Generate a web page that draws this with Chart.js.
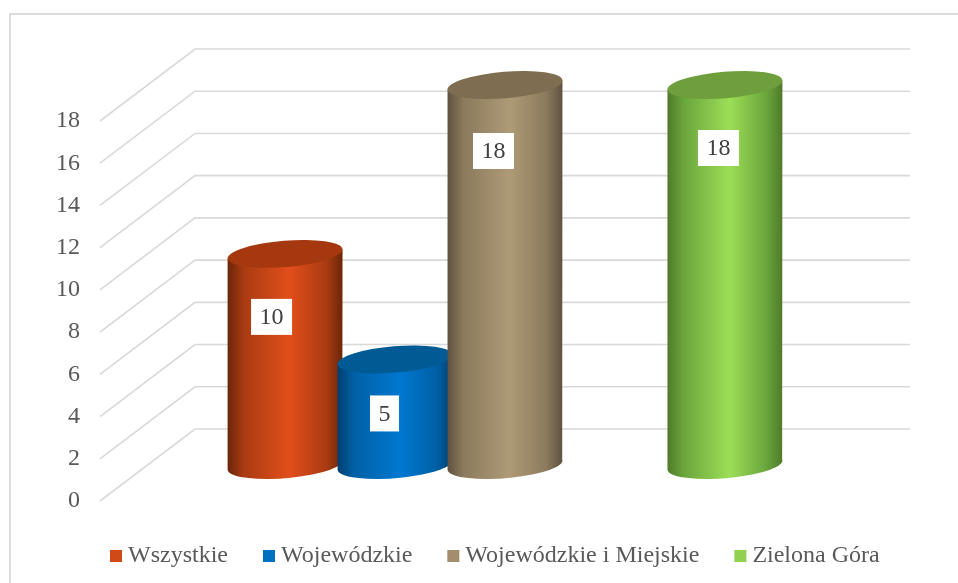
<!DOCTYPE html>
<html>
<head>
<meta charset="utf-8">
<style>
  html, body { margin: 0; padding: 0; background: #fff; overflow: hidden; }
  canvas { display: block; }
</style>
<script src="https://cdn.jsdelivr.net/npm/chart.js@4"></script>
</head>
<body>
<canvas id="chart" width="958" height="583"></canvas>
<script>
// data (4th slot is an empty series, it has no legend entry)
const seriesNames = ["Wszystkie", "Wojewódzkie", "Wojewódzkie i Miejskie", "", "Zielona Góra"];
const seriesValues = [10, 5, 18, null, 18];
const yMin = 0;
const yMax = 18;
const yStep = 2;

// styles
const swatchColors = ["#D04A17", "#0070C0", "#A38D6D", "", "#92D050"];
const topColors = ["#A5380F", "#005A94", "#7E6D50", "", "#6F9E3D"];
const edgeColors = ["#6B2608", "#003F70", "#5F5240", "", "#4F7A2A"];
const midColors = ["#A93B12", "#0060A6", "#8B7A5C", "", "#6AA53C"];
const peakColors = ["#E24E1B", "#0078D0", "#AE9A76", "", "#9CDE57"];
// label box centre relative to the bar's top centre
const labelShiftX = [-13.5, -10.5, -11.5, 0, -6.5];
const labelShiftY = [63, 54, 66, 0, 63];

const fontName = "'Liberation Serif'";
const gridColor = "#D9D9D9";
const depthX = 95;
const depthY = -72;

const cylinderPlugin = {
  id: "cylinders",
  afterLayout(chart) {
    // legend row starts further right than the axis column
    chart.legend.left += 75;
    chart.legend.right += 75;
  },
  beforeDraw(chart) {
    const ctx = chart.ctx;
    ctx.save();
    ctx.fillStyle = "#fff";
    ctx.fillRect(0, 0, chart.width, chart.height);
    // outer frame, only top and left show up
    ctx.strokeStyle = "#DCDCDC";
    ctx.lineWidth = 2;
    ctx.beginPath();
    ctx.moveTo(10, 583);
    ctx.lineTo(10, 14);
    ctx.lineTo(958, 14);
    ctx.stroke();
    ctx.restore();
  },
  beforeDatasetsDraw(chart) {
    const ctx = chart.ctx;
    const area = chart.chartArea;
    const yScale = chart.scales.y;

    /* ---- walls ---- */
    ctx.save();
    ctx.strokeStyle = gridColor;
    ctx.lineWidth = 1.6;
    yScale.ticks.forEach(t => {
      const y = yScale.getPixelForValue(t.value);
      ctx.beginPath();
      ctx.moveTo(area.left, y);
      ctx.lineTo(area.left + depthX, y + depthY);
      ctx.lineTo(area.right + depthX, y + depthY);
      ctx.stroke();
    });
    ctx.restore();

    /* ---- cylinders, later ones sit over earlier ones ---- */
    chart.data.datasets.forEach((ds, i) => {
      if (seriesValues[i] === null) return;
      const bar = chart.getDatasetMeta(i).data[0];
      const cx = bar.x + depthX / 2;
      const topY = bar.y + depthY / 2;
      const baseY = yScale.getPixelForValue(yMin) + depthY / 2;
      const rx = bar.width / 2 + 0.2;
      const ry = 13.2;
      const tilt = -4.7 * Math.PI / 180;
      const halfW = bar.width / 2;
      const skew = 4.5;

      const grad = ctx.createLinearGradient(cx - halfW, 0, cx + halfW, 0);
      grad.addColorStop(0, edgeColors[i]);
      grad.addColorStop(0.14, midColors[i]);
      grad.addColorStop(0.54, peakColors[i]);
      grad.addColorStop(0.86, midColors[i]);
      grad.addColorStop(1, edgeColors[i]);

      ctx.save();
      ctx.fillStyle = grad;
      ctx.beginPath();
      ctx.moveTo(cx - halfW, topY + skew);
      ctx.lineTo(cx - halfW, baseY + skew);
      ctx.ellipse(cx, baseY, rx, ry, tilt, Math.PI - 0.08, -0.08, true);
      ctx.lineTo(cx + halfW, topY - skew);
      ctx.closePath();
      ctx.fill();

      ctx.fillStyle = topColors[i];
      ctx.beginPath();
      ctx.ellipse(cx, topY, rx, ry, tilt, 0, Math.PI * 2);
      ctx.fill();
      ctx.restore();
    });

    /* ---- value labels ---- */
    ctx.save();
    ctx.font = "24px " + fontName;
    ctx.textAlign = "center";
    ctx.textBaseline = "middle";
    chart.data.datasets.forEach((ds, i) => {
      if (seriesValues[i] === null) return;
      const bar = chart.getDatasetMeta(i).data[0];
      const lx = bar.x + depthX / 2 + labelShiftX[i];
      const ly = bar.y + depthY / 2 + labelShiftY[i];
      const text = String(seriesValues[i]);
      const w = ctx.measureText(text).width + 17;
      ctx.fillStyle = "#fff";
      ctx.fillRect(lx - w / 2, ly - 18, w, 36);
      ctx.fillStyle = "#404040";
      ctx.fillText(text, lx, ly + 1);
    });
    ctx.restore();

    return false; // native flat bars are not wanted
  }
};

new Chart(document.getElementById("chart"), {
  type: "bar",
  data: {
    labels: [""],
    datasets: seriesNames.map((name, i) => ({
      label: name,
      data: [seriesValues[i]],
      backgroundColor: swatchColors[i]
    }))
  },
  options: {
    responsive: false,
    animation: false,
    devicePixelRatio: 1,
    categoryPercentage: 0.769,
    barPercentage: 1.045,
    layout: { padding: { top: 121, left: 0, right: 0, bottom: 5 } },
    plugins: {
      tooltip: { enabled: false },
      legend: {
        position: "bottom",
        align: "start",
        labels: {
          filter: item => item.text !== "",
          usePointStyle: true,
          pointStyle: "rect",
          boxWidth: 0.01,
          boxHeight: 12,
          padding: 41,
          color: "#595959",
          font: { family: fontName, size: 24 }
        }
      }
    },
    scales: {
      x: {
        ticks: { display: false },
        grid: { display: false },
        border: { display: false },
        afterFit: s => { s.height = 2; }
      },
      y: {
        min: yMin,
        max: yMax,
        ticks: {
          stepSize: yStep,
          padding: 20,
          color: "#595959",
          font: { family: fontName, size: 24 }
        },
        grid: { display: false, drawTicks: false },
        border: { display: false },
        afterFit: s => { s.width = 100; }
      },
      spacer: {
        axis: "y",
        position: "right",
        ticks: { display: false },
        grid: { display: false, drawTicks: false },
        border: { display: false },
        afterFit: s => { s.width = 143; }
      }
    }
  },
  plugins: [cylinderPlugin]
});
</script>
</body>
</html>
